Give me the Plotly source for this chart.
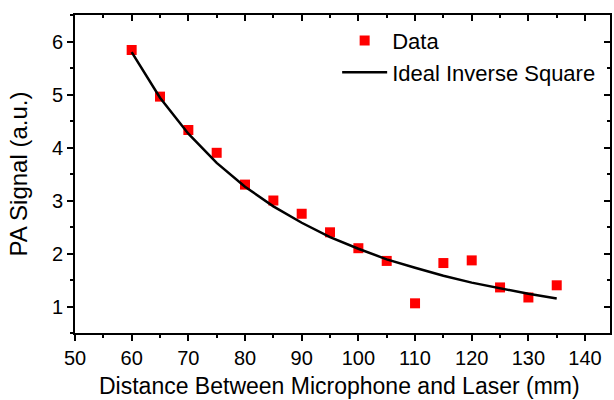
import plotly.graph_objects as go

distance = [60, 65, 70, 75, 80, 85, 90, 95, 100, 105, 110, 115, 120, 125, 130, 135]
pa_signal = [5.84, 4.96, 4.33, 3.90, 3.30, 3.00, 2.75, 2.40, 2.10, 1.86, 1.06, 1.82, 1.87, 1.36, 1.17, 1.40]

# ideal inverse square curve, same distances
ideal_x = [60, 65, 70, 75, 80, 85, 90, 95, 100, 105, 110, 115, 120, 125, 130, 135]
ideal_y = [5.80, 4.94, 4.26, 3.71, 3.26, 2.89, 2.58, 2.31, 2.09, 1.89, 1.73, 1.58, 1.45, 1.34, 1.24, 1.15]

x_range = [50, 144.4]
y_range = [0.5, 6.5]

fig = go.Figure()

fig.add_trace(go.Scatter(
    x=distance, y=pa_signal, mode="markers", name="Data",
    marker=dict(symbol="square", size=10, color="#ff0000"),
))
fig.add_trace(go.Scatter(
    x=ideal_x, y=ideal_y, mode="lines", name="Ideal Inverse Square",
    line=dict(color="black", width=2.5),
))
# dummy trace for the mirrored top/right axes
fig.add_trace(go.Scatter(x=[None], y=[None], xaxis="x2", yaxis="y2", showlegend=False))

font_name = "Liberation Sans, Arial, sans-serif"

fig.update_layout(
    width=614, height=400,
    margin=dict(l=75, r=4, t=15, b=67),
    paper_bgcolor="white", plot_bgcolor="white",
    font=dict(family=font_name, color="black"),
    showlegend=True,
    legend=dict(
        x=0.49, y=0.985, xanchor="left", yanchor="top",
        font=dict(size=22, family=font_name), bgcolor="rgba(0,0,0,0)",
        tracegroupgap=0, itemwidth=45,
    ),
    xaxis=dict(
        range=x_range, dtick=10, tick0=50, showgrid=False, zeroline=False,
        showline=True, linecolor="black", linewidth=2, automargin=False,
        ticks="outside", ticklen=6, tickwidth=2, tickcolor="black",
        minor=dict(dtick=5, ticks="outside", ticklen=3, tickwidth=2, tickcolor="black"),
        tickfont=dict(size=20),
    ),
    yaxis=dict(
        range=y_range, dtick=1, tick0=1, showgrid=False, zeroline=False,
        showline=True, linecolor="black", linewidth=2, automargin=False,
        ticks="outside", ticklen=6, tickwidth=2, tickcolor="black",
        minor=dict(dtick=0.5, ticks="outside", ticklen=3, tickwidth=2, tickcolor="black"),
        tickfont=dict(size=20),
        title=dict(text="PA Signal (a.u.)", font=dict(size=24), standoff=17),
    ),
    xaxis2=dict(
        overlaying="x", side="top", range=x_range, dtick=10, tick0=50,
        showgrid=False, zeroline=False, showticklabels=False, automargin=False,
        showline=True, linecolor="black", linewidth=2,
        ticks="inside", ticklen=6, tickwidth=2, tickcolor="black",
        minor=dict(dtick=5, ticks="inside", ticklen=3, tickwidth=2, tickcolor="black"),
    ),
    yaxis2=dict(
        overlaying="y", side="right", range=y_range, dtick=1, tick0=1,
        showgrid=False, zeroline=False, showticklabels=False, automargin=False,
        showline=True, linecolor="black", linewidth=2,
        ticks="inside", ticklen=6, tickwidth=2, tickcolor="black",
        minor=dict(dtick=0.5, ticks="inside", ticklen=3, tickwidth=2, tickcolor="black"),
    ),
)

# x axis title placed a little lower than plotly would put it
fig.add_annotation(
    text="Distance Between Microphone and Laser (mm)",
    xref="paper", yref="paper", x=0.495, y=-0.166,
    xanchor="center", yanchor="middle", showarrow=False,
    font=dict(size=23, family=font_name, color="black"),
)

# drop the default page margin so the figure sits at the window corner
fig.write_html("out.html", config={"displayModeBar": False},
               post_script="document.body.style.margin='0';")
